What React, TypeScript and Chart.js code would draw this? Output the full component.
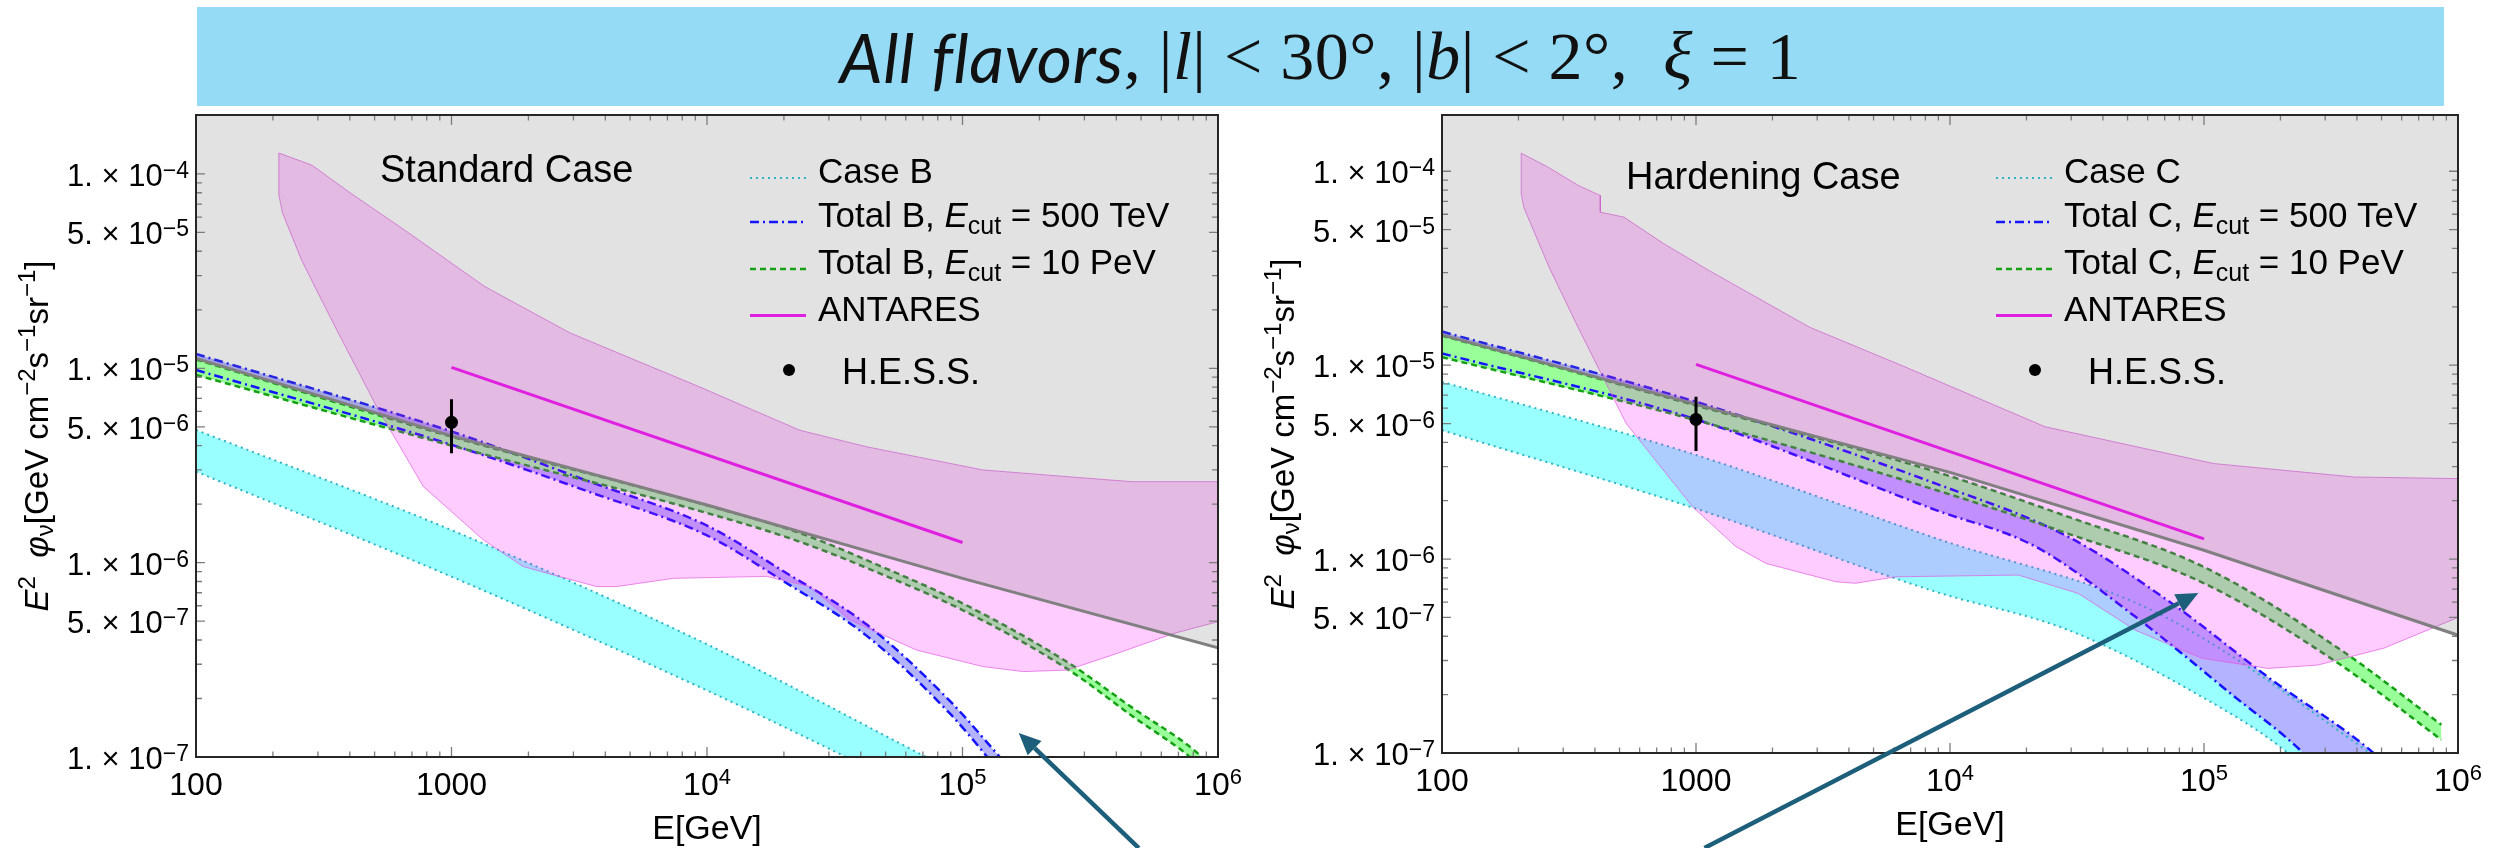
import React, { useEffect, useRef } from "react";
import { Chart, registerables } from "chart.js";
Chart.register(...registerables);

const FONT = '"Liberation Sans", Arial, Helvetica, sans-serif';

// ---------------- axes ----------------
const xTickValues = [100, 1000, 1e4, 1e5, 1e6];
const xTickBase = ["100", "1000", "10", "10", "10"];
const xTickExp = ["", "", "4", "5", "6"];
const yTickValues = [1e-4, 5e-5, 1e-5, 5e-6, 1e-6, 5e-7, 1e-7];
const yTickMant = ["1.", "5.", "1.", "5.", "1.", "5.", "1."];
const yTickExp = ["−4", "−5", "−5", "−6", "−6", "−7", "−7"];
const xRange = [100, 1e6];
const yRangeL = [1e-7, 2.01e-4];
const yRangeR = [1e-7, 1.95e-4];

// ---------------- Standard case (left) ----------------
const grayE_L = [100, 1000, 1e4, 1e5, 1e6];
const grayF_L = [1.125e-5, 4.49e-6, 1.98e-6, 8.3e-7, 3.65e-7];
const cyanUpE_L = [100, 1000, 1e4, 7.2e4, 1e5];
const cyanUpF_L = [4.82e-6, 1.47e-6, 3.8e-7, 1e-7, 8e-8];
const cyanLoE_L = [100, 1000, 1e4, 3.5e4, 1e5];
const cyanLoF_L = [2.94e-6, 8.47e-7, 2.2e-7, 1e-7, 5e-8];
const c500UpE_L = [100, 1000, 3500, 1e4, 2e4, 4.22e4, 8.9e4, 1.4e5, 1.7e5];
const c500UpF_L = [1.185e-5, 4.73e-6, 2.6e-6, 1.55e-6, 9.0e-7, 4.8e-7, 1.95e-7, 1.0e-7, 7.5e-8];
const c500LoE_L = [100, 1000, 3500, 1e4, 2e4, 4.22e4, 8.9e4, 1.25e5, 1.7e5];
const c500LoF_L = [9.8e-6, 4.04e-6, 2.3e-6, 1.38e-6, 8.0e-7, 4.2e-7, 1.68e-7, 1.0e-7, 6.0e-8];
const c10E_L = [100, 1000, 1e4, 2.31e4, 5e4, 1e5, 2.57e5, 4.6e5, 8.3e5, 1.1e6];
const c10UpF_L = [1.11e-5, 4.45e-6, 1.97e-6, 1.42e-6, 9.35e-7, 6.18e-7, 3.08e-7, 1.8e-7, 1.05e-7, 7.2e-8];
const c10LoF_L = [9.24e-6, 4.0e-6, 1.8e-6, 1.28e-6, 8.55e-7, 5.7e-7, 2.84e-7, 1.63e-7, 9.3e-8, 6.3e-8];
const regUpE_L = [211, 284, 401, 661, 1352, 2912, 9400, 1.47e4, 2.31e4, 4.2e4, 1.2e5, 2.57e5, 4.6e5, 1e6];
const regUpF_L = [1.28e-4, 1.11e-4, 8e-5, 5.1e-5, 2.63e-5, 1.52e-5, 8.0e-6, 6.2e-6, 4.8e-6, 3.95e-6, 3.0e-6, 2.77e-6, 2.61e-6, 2.61e-6];
const regLoE_L = [211, 218, 259, 305, 356, 509, 776, 1331, 1906, 2500, 3700, 4430, 7380, 1.71e4, 2.53e4, 3.63e4, 6.6e4, 1.2e5, 1.73e5, 2.57e5, 4.0e5, 6.7e5, 1e6];
const regLoF_L = [7.8e-5, 6.3e-5, 3.6e-5, 2.34e-5, 1.57e-5, 6.35e-6, 2.46e-6, 1.31e-6, 9.55e-7, 8.65e-7, 7.53e-7, 7.53e-7, 8.3e-7, 8.5e-7, 7.53e-7, 5.07e-7, 3.55e-7, 2.92e-7, 2.75e-7, 2.8e-7, 3.4e-7, 4.32e-7, 4.97e-7];
const hessF_L = 5.27e-6;
const hessErr_L = [6.93e-6, 3.65e-6];
const arrowL = [4.9e5, 3.4e-8, 1.66e5, 1.33e-7]; // tail E, tail F, tip E, tip F

// ---------------- Hardening case (right) ----------------
const grayE_R = [100, 1000, 1e4, 1e5, 1e6];
const grayF_R = [1.43e-5, 6.28e-6, 2.8e-6, 1.11e-6, 4.05e-7];
const cyanUpE_R = [100, 1000, 8800, 6.5e4, 4.5e5, 5.5e5];
const cyanUpF_R = [8.2e-6, 3.44e-6, 1.28e-6, 5.3e-7, 1e-7, 8.2e-8];
const cyanLoE_R = [100, 1000, 8800, 2.93e4, 9.8e4, 2.1e5, 3e5, 5.5e5];
const cyanLoF_R = [4.62e-6, 1.82e-6, 6.78e-7, 4.3e-7, 1.95e-7, 1.02e-7, 6.5e-8, 3.2e-8];
const c500UpE_R = [100, 1000, 8800, 2.93e4, 7.48e4, 1.85e5, 4.57e5, 6.5e5];
const c500UpF_R = [1.49e-5, 6.47e-6, 2.45e-6, 1.3e-6, 5.9e-7, 2.38e-7, 1.02e-7, 6.5e-8];
const c500LoE_R = [100, 1000, 8800, 2.17e4, 5.36e4, 1.32e5, 2.42e5, 3.3e5, 6.5e5];
const c500LoF_R = [1.15e-5, 5.25e-6, 1.79e-6, 1.16e-6, 5.05e-7, 1.95e-7, 1.02e-7, 6.5e-8, 2.5e-8];
const c10E_R = [100, 1000, 8800, 2.93e4, 1e5, 3.38e5, 8.6e5];
const c10UpF_R = [1.42e-5, 6.2e-6, 2.82e-6, 1.65e-6, 9.1e-7, 3.47e-7, 1.4e-7];
const c10LoF_R = [1.1e-5, 5.2e-6, 2.27e-6, 1.35e-6, 7.5e-7, 2.9e-7, 1.17e-7];
const regUpE_R = [205, 258, 347, 420, 420, 520, 745, 1119, 2800, 6650, 2.37e4, 1.09e5, 3.9e5, 1e6];
const regUpF_R = [1.24e-4, 1.06e-4, 8.4e-5, 7.5e-5, 6.15e-5, 5.8e-5, 4.24e-5, 3.09e-5, 1.57e-5, 9.8e-6, 4.81e-6, 3.11e-6, 2.65e-6, 2.6e-6];
const regLoE_R = [205, 210, 264, 348, 531, 970, 1435, 1884, 3550, 4250, 6110, 1.86e4, 3.2e4, 5.36e4, 9.8e4, 1.79e5, 2.8e5, 5.1e5, 1e6];
const regLoF_R = [7.7e-5, 6.5e-5, 3.2e-5, 1.51e-5, 5.0e-6, 1.86e-6, 1.16e-6, 9.5e-7, 7.64e-7, 7.5e-7, 8.1e-7, 8.27e-7, 6.65e-7, 4.3e-7, 3.08e-7, 2.73e-7, 2.84e-7, 3.47e-7, 5.0e-7];
const hessF_R = 5.25e-6;
const hessErr_R = [6.87e-6, 3.61e-6];
const arrowR = [1.08e3, 3.24e-8, 9.5e4, 6.68e-7];

// ---------------- shared ----------------
const antE = [1000, 1e5];
const antF = [1.01e-5, 1.27e-6];
const hessE = 1000;
const legendPrefixL = ["Case B", "Total B, ", "Total B, ", "ANTARES"];
const legendPrefixR = ["Case C", "Total C, ", "Total C, ", "ANTARES"];
const legendCut = ["", "500 TeV", "10 PeV", ""];
const hessLabel = "H.E.S.S.";

// ---------------- styles ----------------
const GRAY_FILL = "rgba(110,110,110,0.2)";
const CYAN_FILL = "#99ffff";
const CYAN_LINE = "#2fb3c2";
const BLUE_FILL = "#b3b3ff";
const BLUE_LINE = "#1414ff";
const GREEN_FILL = "#99ff99";
const GREEN_LINE = "#16a016";
const PINK_FILL = "rgba(255,0,255,0.2)";
const PINK_EDGE = "rgba(225,90,225,0.7)";
const GRAY_LINE = "#808080";
const ANT_COLOR = "#e020e0";
const ARROW_COLOR = "#1d5f7b";
const NONE = "rgba(0,0,0,0)";
const DOT = [2, 4];
const DASHDOT = [9, 4, 2, 4];
const DASH = [6, 4];

type Pt = { x: number; y: number };
const pts = (E: number[], F: number[]): Pt[] => E.map((e, i) => ({ x: e, y: F[i] }));
const poly = (Eu: number[], Fu: number[], El: number[], Fl: number[]): Pt[] =>
  pts(Eu, Fu).concat(pts(El, Fl).reverse());
const above = (E: number[], F: number[], top: number): Pt[] =>
  pts(E, F).concat([{ x: E[E.length - 1], y: top }, { x: E[0], y: top }]);

const shapeDs = (data: Pt[], color: string, edge = NONE, w = 0) => ({
  data, showLine: true, fill: "shape", backgroundColor: color, borderColor: edge, borderWidth: w, pointRadius: 0,
});
const bandDs = (up: Pt[], lo: Pt[], color: string) => [
  { data: up, showLine: true, fill: "+1", backgroundColor: color, borderColor: NONE, borderWidth: 0, pointRadius: 0, cubicInterpolationMode: "monotone" },
  { data: lo, showLine: true, fill: false, borderColor: NONE, borderWidth: 0, pointRadius: 0, cubicInterpolationMode: "monotone" },
];
const curveDs = (data: Pt[], color: string, w: number, dash: number[]) => ({
  data, showLine: true, fill: false, borderColor: color, borderWidth: w, borderDash: dash, pointRadius: 0, cubicInterpolationMode: "monotone",
});
const lineDs = (data: Pt[], color: string, w: number) => ({
  data, showLine: true, fill: false, borderColor: color, borderWidth: w, pointRadius: 0,
});

type Seg = { t: string; s?: number; i?: boolean; dy?: number };
const segFont = (g: Seg, base: number) => `${g.i ? "italic " : ""}${g.s ?? base}px ${FONT}`;
function richWidth(ctx: CanvasRenderingContext2D, segs: Seg[], base: number) {
  let w = 0;
  for (const g of segs) { ctx.font = segFont(g, base); w += ctx.measureText(g.t).width; }
  return w;
}
function drawRich(ctx: CanvasRenderingContext2D, segs: Seg[], x: number, y: number, base: number, align: string) {
  const w = richWidth(ctx, segs, base);
  let cx = align === "left" ? x : align === "right" ? x - w : x - w / 2;
  ctx.textAlign = "left";
  ctx.textBaseline = "alphabetic";
  for (const g of segs) {
    ctx.font = segFont(g, base);
    ctx.fillText(g.t, cx, y + (g.dy ?? 0));
    cx += ctx.measureText(g.t).width;
  }
}

interface Panel {
  yRange: number[];
  pad: { left: number; right: number; top: number; bottom: number };
  datasets: any[];
  title: string;
  titleBaseline: number;
  legendPrefix: string[];
  arrow: number[];
}

function buildPanel(p: {
  grayE: number[]; grayF: number[];
  cyanUpE: number[]; cyanUpF: number[]; cyanLoE: number[]; cyanLoF: number[];
  bUpE: number[]; bUpF: number[]; bLoE: number[]; bLoF: number[];
  gE: number[]; gUpF: number[]; gLoF: number[];
  rUpE: number[]; rUpF: number[]; rLoE: number[]; rLoF: number[];
  hessF: number; hessErr: number[];
}) {
  const region = poly(p.rUpE, p.rUpF, p.rLoE, p.rLoF);
  region.push(region[0]);
  const cyanUp = pts(p.cyanUpE, p.cyanUpF), cyanLo = pts(p.cyanLoE, p.cyanLoF);
  const bUp = pts(p.bUpE, p.bUpF), bLo = pts(p.bLoE, p.bLoF);
  const gUp = pts(p.gE, p.gUpF), gLo = pts(p.gE, p.gLoF);
  // listed bottom-to-top
  const list: any[] = [
    ...bandDs(cyanUp, cyanLo, CYAN_FILL),
    ...bandDs(bUp, bLo, BLUE_FILL),
    ...bandDs(gUp, gLo, GREEN_FILL),
    curveDs(cyanUp, CYAN_LINE, 2, DOT),
    curveDs(cyanLo, CYAN_LINE, 2, DOT),
    curveDs(bUp, BLUE_LINE, 2.5, DASHDOT),
    curveDs(bLo, BLUE_LINE, 2.5, DASHDOT),
    curveDs(gUp, GREEN_LINE, 2.5, DASH),
    curveDs(gLo, GREEN_LINE, 2.5, DASH),
    shapeDs(region, PINK_FILL, PINK_EDGE, 1),
    shapeDs(above(p.grayE, p.grayF, 1), GRAY_FILL),
    lineDs(pts(p.grayE, p.grayF), GRAY_LINE, 3),
    lineDs(pts(antE, antF), ANT_COLOR, 3),
    lineDs([{ x: hessE, y: p.hessErr[0] }, { x: hessE, y: p.hessErr[1] }], "#000", 3),
    { data: [{ x: hessE, y: p.hessF }], showLine: false, pointRadius: 6.5, pointBackgroundColor: "#000", pointBorderWidth: 0 },
  ];
  return list.map((d, i) => ({ ...d, order: list.length - i }));
}

const LEFT: Panel = {
  yRange: yRangeL,
  pad: { left: 196, right: 32, top: 115, bottom: 91 },
  datasets: buildPanel({
    grayE: grayE_L, grayF: grayF_L,
    cyanUpE: cyanUpE_L, cyanUpF: cyanUpF_L, cyanLoE: cyanLoE_L, cyanLoF: cyanLoF_L,
    bUpE: c500UpE_L, bUpF: c500UpF_L, bLoE: c500LoE_L, bLoF: c500LoF_L,
    gE: c10E_L, gUpF: c10UpF_L, gLoF: c10LoF_L,
    rUpE: regUpE_L, rUpF: regUpF_L, rLoE: regLoE_L, rLoF: regLoF_L,
    hessF: hessF_L, hessErr: hessErr_L,
  }),
  title: "Standard Case",
  titleBaseline: 182,
  legendPrefix: legendPrefixL,
  arrow: arrowL,
};

const RIGHT: Panel = {
  yRange: yRangeR,
  pad: { left: 192, right: 49, top: 115, bottom: 95 },
  datasets: buildPanel({
    grayE: grayE_R, grayF: grayF_R,
    cyanUpE: cyanUpE_R, cyanUpF: cyanUpF_R, cyanLoE: cyanLoE_R, cyanLoF: cyanLoF_R,
    bUpE: c500UpE_R, bUpF: c500UpF_R, bLoE: c500LoE_R, bLoF: c500LoF_R,
    gE: c10E_R, gUpF: c10UpF_R, gLoF: c10LoF_R,
    rUpE: regUpE_R, rUpF: regUpF_R, rLoE: regLoE_R, rLoF: regLoF_R,
    hessF: hessF_R, hessErr: hessErr_R,
  }),
  title: "Hardening Case",
  titleBaseline: 189,
  legendPrefix: legendPrefixR,
  arrow: arrowR,
};

function drawFrame(chart: any) {
  const { ctx, chartArea: a } = chart;
  const xs = chart.scales.x, ys = chart.scales.y;
  ctx.save();
  ctx.strokeStyle = "#7c7c7c";
  ctx.lineWidth = 1.3;
  ctx.beginPath();
  for (let d = 100; d <= 1e6 * 1.001; d *= 10) {
    for (let k = 1; k <= 9; k++) {
      const v = k * d;
      if (v > xs.max * 1.0001) break;
      const px = xs.getPixelForValue(v);
      const len = k === 1 ? 10 : 5.5;
      ctx.moveTo(px, a.bottom); ctx.lineTo(px, a.bottom - len);
      ctx.moveTo(px, a.top); ctx.lineTo(px, a.top + len);
    }
  }
  for (let d = 1e-7; d < ys.max; d *= 10) {
    for (let k = 1; k <= 9; k++) {
      const v = k * d;
      if (v > ys.max) break;
      const py = ys.getPixelForValue(v);
      const len = k === 1 || k === 5 ? 9 : 6;
      ctx.moveTo(a.left, py); ctx.lineTo(a.left + len, py);
      ctx.moveTo(a.right, py); ctx.lineTo(a.right - len, py);
    }
  }
  ctx.stroke();
  ctx.strokeStyle = "#262626";
  ctx.lineWidth = 2;
  ctx.strokeRect(a.left, a.top, a.right - a.left, a.bottom - a.top);
  ctx.restore();
}

function drawDecor(chart: any, cfg: Panel) {
  const { ctx, chartArea: a } = chart;
  const xs = chart.scales.x, ys = chart.scales.y;
  ctx.save();
  ctx.fillStyle = "#000";
  yTickValues.forEach((v, i) => {
    const py = ys.getPixelForValue(v);
    drawRich(ctx, [{ t: `${yTickMant[i]} × 10` }, { t: yTickExp[i], s: 23, dy: -8 }], a.left - 7, py + 12, 31, "right");
  });
  xTickValues.forEach((v, i) => {
    const px = xs.getPixelForValue(v);
    const segs: Seg[] = [{ t: xTickBase[i] }];
    if (xTickExp[i]) segs.push({ t: xTickExp[i], s: 22, dy: -11 });
    drawRich(ctx, segs, px, a.bottom + 38, 32, "center");
  });
  drawRich(ctx, [{ t: "E[GeV]" }], (a.left + a.right) / 2, a.bottom + 82, 34, "center");
  ctx.save();
  ctx.translate(a.left - 148, (a.top + a.bottom) / 2);
  ctx.rotate(-Math.PI / 2);
  drawRich(ctx, [
    { t: "E", i: true }, { t: "2", s: 24, dy: -13 }, { t: "  " },
    { t: "φ", i: true }, { t: "ν", s: 24, dy: 5 },
    { t: "[GeV cm" }, { t: "−2", s: 24, dy: -13 },
    { t: "s" }, { t: "−1", s: 24, dy: -13 },
    { t: "sr" }, { t: "−1", s: 24, dy: -13 }, { t: "]" },
  ], 0, 0, 33, "center");
  ctx.restore();
  drawRich(ctx, [{ t: cfg.title }], a.left + 184, cfg.titleBaseline, 38, "left");
  const baselines = [183, 227, 274, 320.5];
  const styles = [
    { c: CYAN_LINE, w: 2, d: DOT },
    { c: BLUE_LINE, w: 2.5, d: DASHDOT },
    { c: GREEN_LINE, w: 2.5, d: DASH },
    { c: ANT_COLOR, w: 3, d: [] as number[] },
  ];
  cfg.legendPrefix.forEach((name, i) => {
    const by = baselines[i];
    const st = styles[i];
    ctx.save();
    ctx.strokeStyle = st.c; ctx.lineWidth = st.w; ctx.setLineDash(st.d);
    ctx.beginPath(); ctx.moveTo(a.left + 554, by - 5); ctx.lineTo(a.left + 610, by - 5); ctx.stroke();
    ctx.restore();
    const segs: Seg[] = [{ t: name }];
    if (legendCut[i]) segs.push({ t: "E", i: true }, { t: "cut", s: 25, dy: 7 }, { t: " = " + legendCut[i] });
    drawRich(ctx, segs, a.left + 622, by, 35, "left");
  });
  ctx.beginPath();
  ctx.arc(a.left + 593, 370, 6, 0, Math.PI * 2);
  ctx.fill();
  drawRich(ctx, [{ t: hessLabel }], a.left + 646, 384, 36, "left");
  const [tE, tF, hE, hF] = cfg.arrow;
  const x0 = xs.getPixelForValue(tE), y0 = ys.getPixelForValue(tF);
  const x1 = xs.getPixelForValue(hE), y1 = ys.getPixelForValue(hF);
  const ang = Math.atan2(y1 - y0, x1 - x0);
  const L = 22, W = 10;
  const bx = x1 - L * Math.cos(ang), by2 = y1 - L * Math.sin(ang);
  ctx.strokeStyle = ARROW_COLOR; ctx.fillStyle = ARROW_COLOR; ctx.lineWidth = 4.5;
  ctx.beginPath(); ctx.moveTo(x0, y0); ctx.lineTo(bx, by2); ctx.stroke();
  ctx.beginPath();
  ctx.moveTo(x1, y1);
  ctx.lineTo(bx + W * Math.sin(ang), by2 - W * Math.cos(ang));
  ctx.lineTo(bx - W * Math.sin(ang), by2 + W * Math.cos(ang));
  ctx.closePath(); ctx.fill();
  ctx.restore();
}

function makeChart(canvas: HTMLCanvasElement, cfg: Panel) {
  return new Chart(canvas, {
    type: "scatter",
    data: { datasets: cfg.datasets },
    options: {
      responsive: false,
      animation: false,
      devicePixelRatio: 1,
      events: [],
      layout: { padding: cfg.pad },
      elements: { line: { tension: 0, capBezierPoints: false } },
      plugins: { legend: { display: false }, tooltip: { enabled: false }, title: { display: false } },
      scales: {
        x: { type: "logarithmic", min: xRange[0], max: xRange[1], display: false },
        y: { type: "logarithmic", min: cfg.yRange[0], max: cfg.yRange[1], display: false },
      },
    } as any,
    plugins: [{
      id: "decor",
      afterDatasetsDraw: (c: any) => drawFrame(c),
      afterDraw: (c: any) => drawDecor(c, cfg),
    }],
  } as any);
}

export default function App() {
  const lRef = useRef<HTMLCanvasElement>(null);
  const rRef = useRef<HTMLCanvasElement>(null);
  useEffect(() => {
    const charts: Chart[] = [];
    if (lRef.current) charts.push(makeChart(lRef.current, LEFT));
    if (rRef.current) charts.push(makeChart(rRef.current, RIGHT));
    return () => charts.forEach((c) => c.destroy());
  }, []);
  const math = '"Liberation Serif", "DejaVu Serif", serif';
  return (
    <div style={{ position: "absolute", left: 0, top: 0, width: 2507, height: 848, overflow: "hidden", background: "#fff" }}>
      <canvas ref={lRef} width={1250} height={848} style={{ position: "absolute", left: 0, top: 0 }} />
      <canvas ref={rRef} width={1257} height={848} style={{ position: "absolute", left: 1250, top: 0 }} />
      <div style={{
        position: "absolute", left: 197, top: 7, width: 2247, height: 99, background: "#96dbf5", zIndex: 2,
        display: "flex", alignItems: "center", justifyContent: "center", whiteSpace: "pre",
        fontSize: 68, color: "#111", fontFamily: math, letterSpacing: 0.5,
      }}>
        <span style={{ fontStyle: "italic", fontFamily: 'Lato, "Open Sans", sans-serif' }}>All flavors</span>
        <span>, |</span><i>l</i><span>| &lt; 30°, |</span><i>b</i><span>| &lt; 2°,  </span><i>ξ</i><span> = 1</span>
      </div>
    </div>
  );
}
